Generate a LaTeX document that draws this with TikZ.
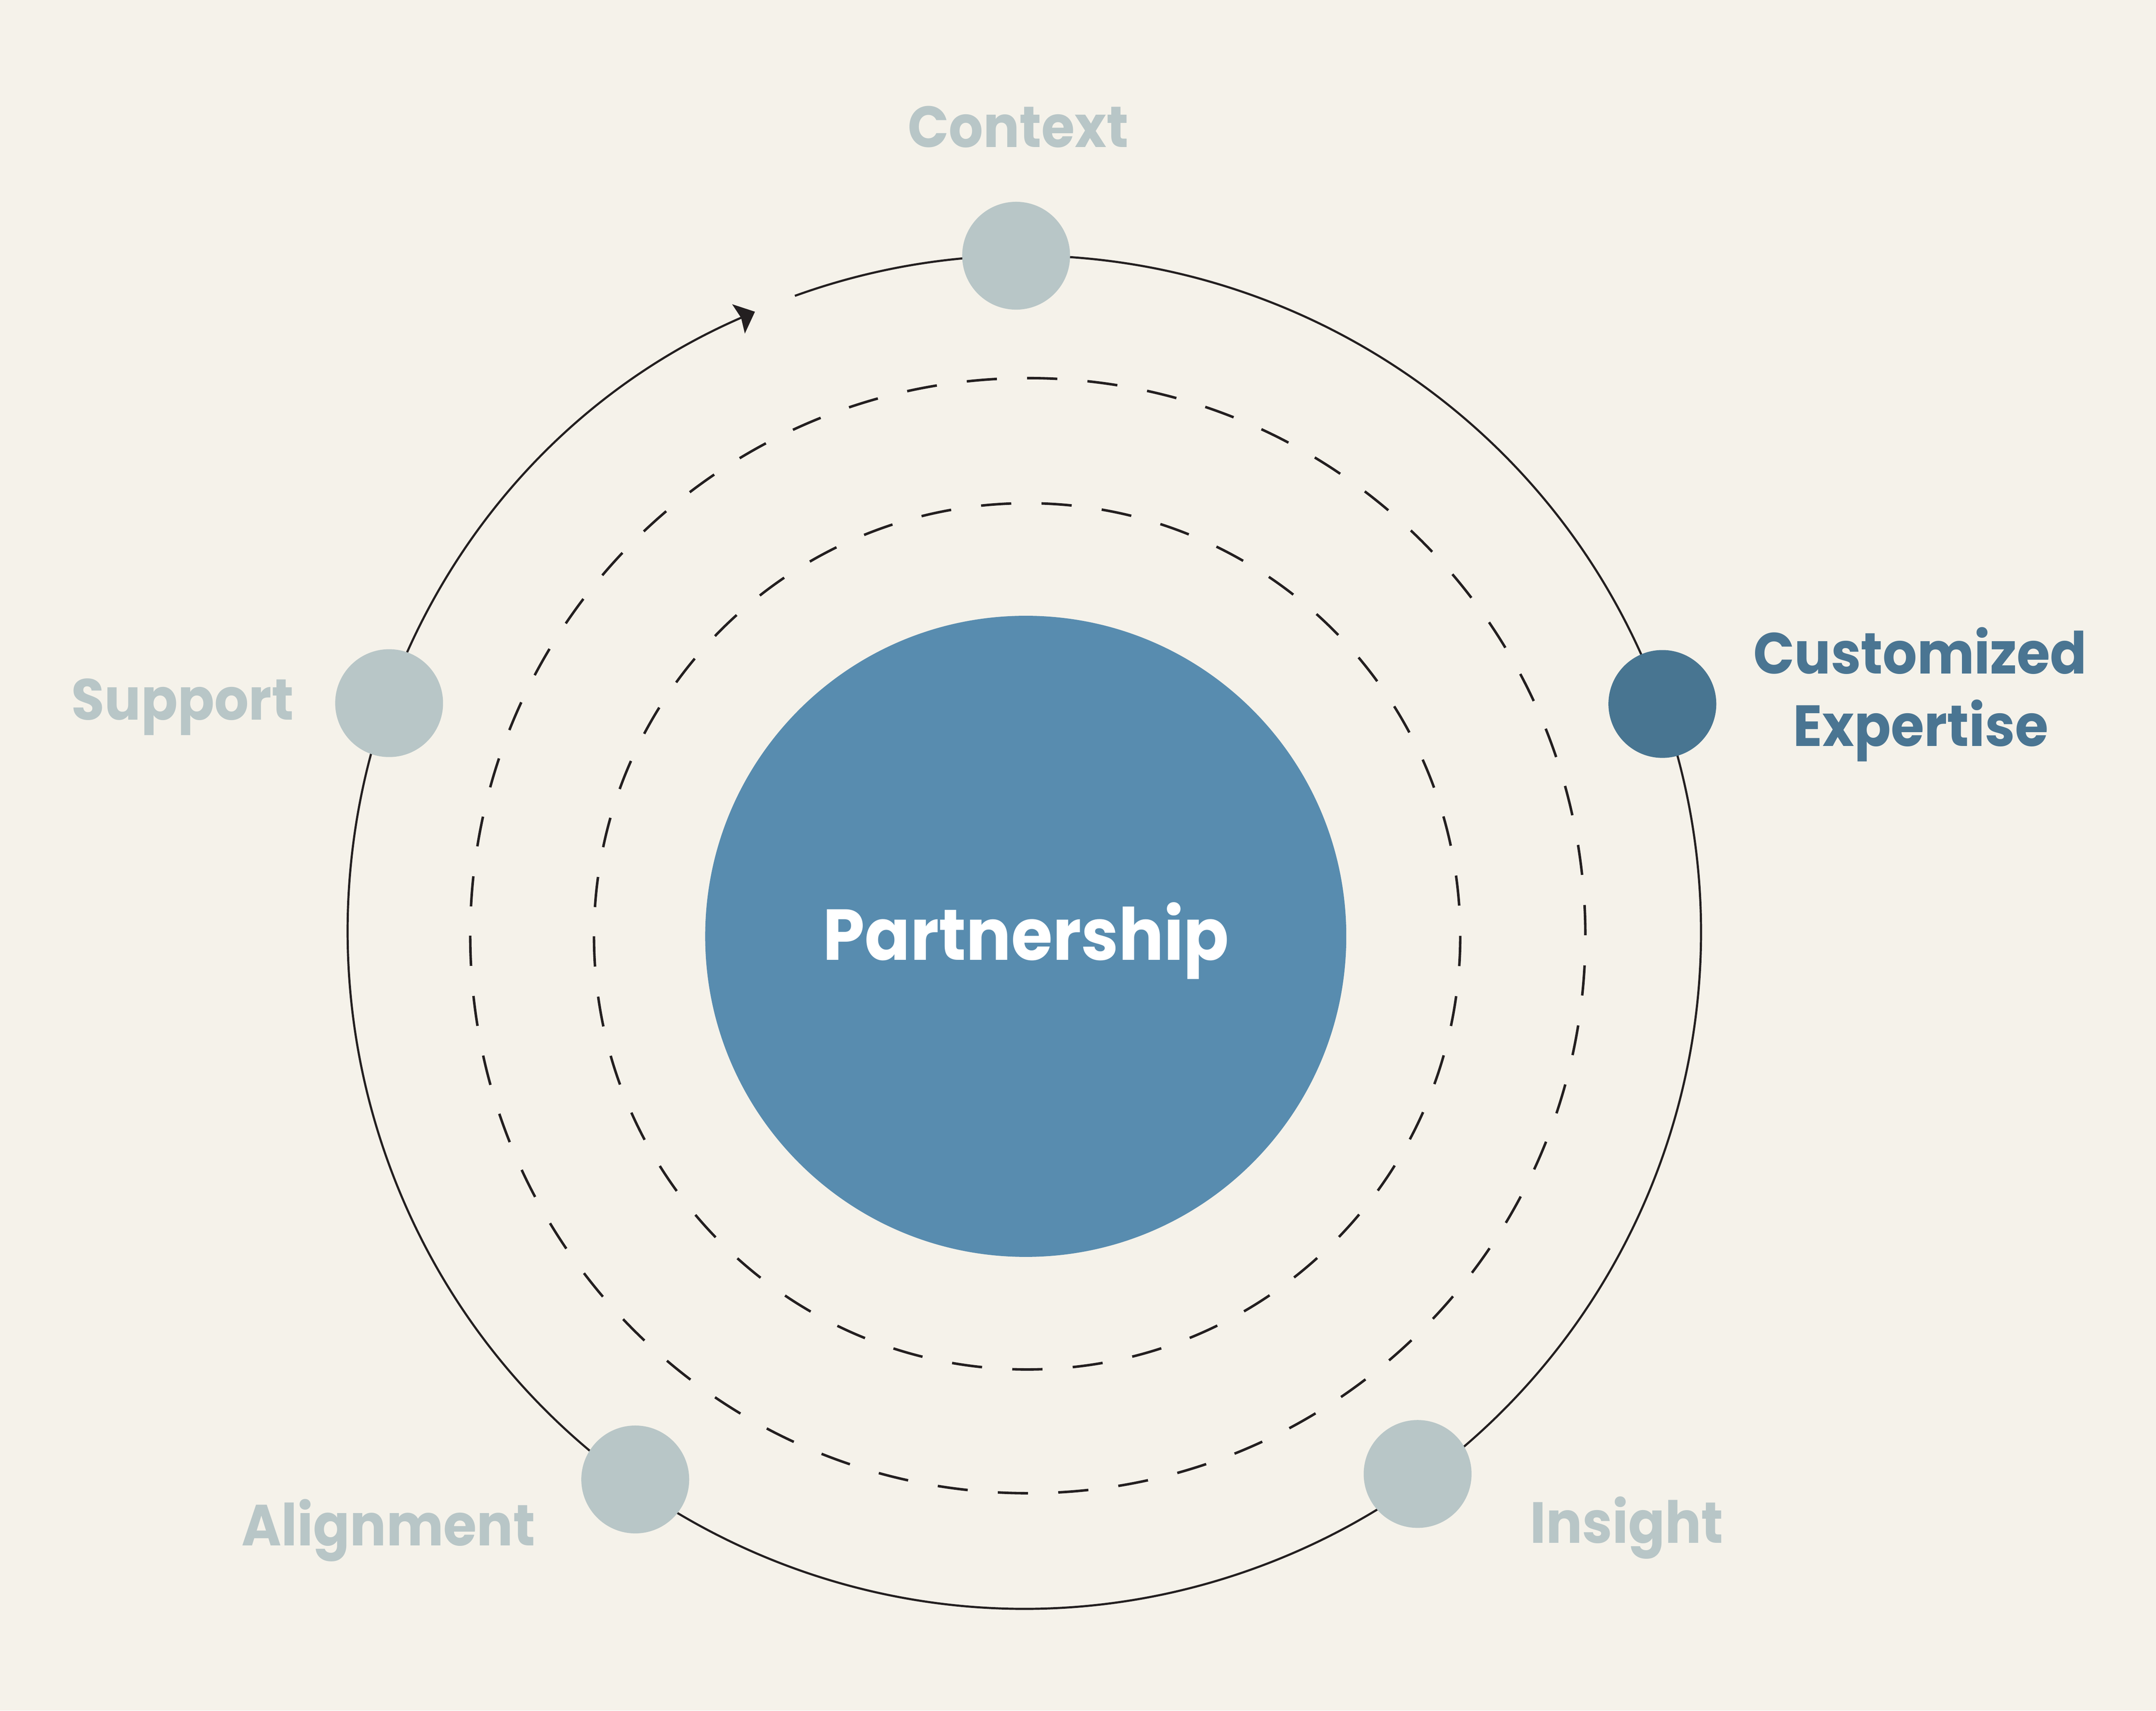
\documentclass[tikz,border=0pt]{standalone}
\usepackage{fontspec}
\setmainfont{Poppins}[FakeStretch=0.93]
\usetikzlibrary{arrows.meta}
\definecolor{bgc}{HTML}{F5F2EA}
\definecolor{lightc}{HTML}{B8C6C7}
\definecolor{darkc}{HTML}{487591}
\definecolor{bigc}{HTML}{588CAF}
\definecolor{darktext}{HTML}{4A7592}
\definecolor{inkc}{HTML}{231F20}
\begin{document}
\begin{tikzpicture}[x=0.01cm,y=0.01cm,
  ring/.style={draw=inkc,line width=0.44pt},
  dashouter/.style={draw=inkc,line width=0.52pt,dash pattern=on 0.2196cm off 0.2196cm},
  dashinner/.style={draw=inkc,line width=0.52pt,dash pattern=on 0.2199cm off 0.2199cm},
  ldot/.style={circle,fill=lightc,minimum size=0.784cm,inner sep=0pt},
  ddot/.style={circle,fill=darkc,minimum size=0.784cm,inner sep=0pt},
  lbl/.style={anchor=base,text=lightc,font=\bfseries\fontsize{12}{14}\selectfont,inner sep=0pt},
  dlbl/.style={anchor=base,text=darktext,font=\bfseries\fontsize{12}{14}\selectfont,inner sep=0pt},
  bigcircle/.style={circle,fill=bigc,minimum size=4.66cm,inner sep=0pt}]
\fill[bgc] (0,0) rectangle (1568,1244.2);
\useasboundingbox (0,0) rectangle (1568,1244.2);
\coordinate (O) at (745,566.2);
\coordinate (D1) at (747.5,563.7);
\coordinate (D2) at (747,563.2);
% dashed rings
\draw[dashouter] ([shift={(180:405.5)}]D1) arc[start angle=180,end angle=540,radius=405.5];
\draw[dashinner] ([shift={(180:315)}]D2) arc[start angle=180,end angle=540,radius=315];
% outer ring with arrow
\draw[ring,-{Stealth[length=0.13cm,width=0.23cm,inset=0.02cm]}] ([shift={(109.83:492)}]O) arc[start angle=109.83,end angle=-246.53,radius=492];
% centre
\node[bigcircle] (core) at (746,563.2) {};
\node[anchor=base,text=white,font=\bfseries\fontsize{14.9}{17}\selectfont,inner sep=0pt] (corelbl) at (746.2,546.1) {Partnership};
% dots
\node[ldot] (context) at (739,1058.2) {};
\node[ddot] (custom) at (1209,732.2) {};
\node[ldot] (support) at (283,732.8) {};
\node[ldot] (align) at (462,168.2) {};
\node[ldot] (insight) at (1031,172.2) {};
% labels
\node[lbl] (contextlbl) at (740.5,1137.2) {Context};
\node[dlbl] (customlbl) at (1396.5,754.1) {Customized};
\node[dlbl] (expertlbl) at (1397,701.6) {Expertise};
\node[lbl] (supportlbl) at (132.8,720.6) {Support};
\node[lbl] (alignlbl) at (282.5,120) {Alignment};
\node[lbl] (insightlbl) at (1183,122) {Insight};
\end{tikzpicture}
\end{document}
